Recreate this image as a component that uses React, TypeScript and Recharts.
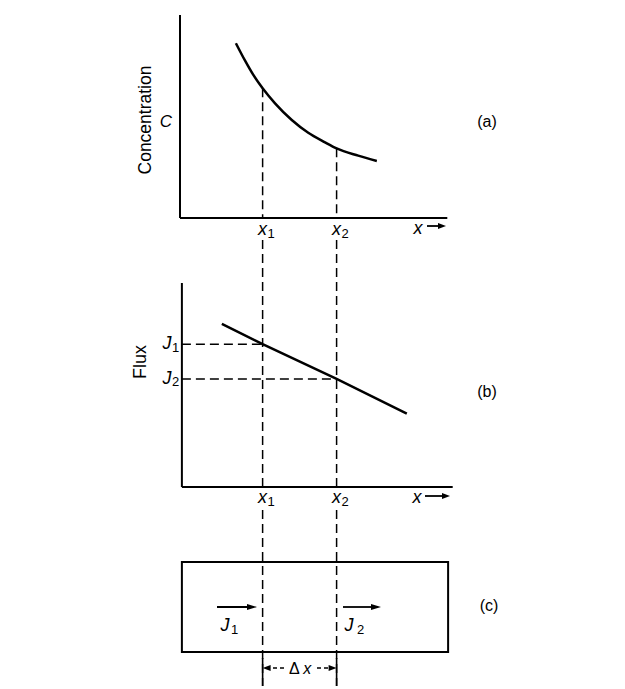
import React from 'react';
import { ComposedChart, Line, XAxis, YAxis, ReferenceLine, ReferenceDot, ReferenceArea } from 'recharts';

// ---------------- data ----------------
const positions = [3.06, 5.8]; // x1, x2 on the shared x scale
const subscripts = ['1', '2'];
const concX = [2.07, 2.41, 2.71, 3.06, 3.52, 4.14, 4.75, 5.37, 5.8, 6.6, 7.29];
const concValues = [8.61, 7.75, 7.06, 6.39, 5.65, 4.83, 4.2, 3.73, 3.43, 3.07, 2.81];
const fluxX = [1.55, 3.06, 5.8, 8.4];
const fluxValues = [8.0, 7.0, 5.3, 3.6];
const fluxAtPositions = [7.0, 5.3]; // J1, J2
const slabX = [0.07, 9.93];
const slabY = [0, 5];
const panelNames = ['(a)', '(b)', '(c)'];

const concData = concX.map((x, i) => ({ x, c: concValues[i] }));
const fluxData = fluxX.map((x, i) => ({ x, j: fluxValues[i] }));

// ---------------- layout ----------------
const W = 625;
const H = 689;
const ML = 180;
const MR = 175;
const TOP = 15;
const BOTTOM = 686;
const X_PPU = (W - ML - MR) / 10;
const C_ZERO = 218, C_PPU = 20.3;
const F_ZERO = 487, F_PPU = 20.4;
const S_ZERO = 652, S_PPU = 18;
const dom = (zero: number, ppu: number) => [-(BOTTOM - zero) / ppu, (zero - TOP) / ppu];
const cDomain = dom(C_ZERO, C_PPU);
const fDomain = dom(F_ZERO, F_PPU);
const sDomain = dom(S_ZERO, S_PPU);
const xU = (px: number) => (px - ML) / X_PPU;
const cU = (px: number) => (C_ZERO - px) / C_PPU;
const fU = (px: number) => (F_ZERO - px) / F_PPU;
const sU = (px: number) => (S_ZERO - px) / S_PPU;

const FONT = "'Liberation Sans', Arial, Helvetica, sans-serif";
const INK = '#000';
const DASH = '9 5';

const note = (key: string, axis: string, x: number, y: number, render: (cx: number, cy: number) => React.ReactNode) => (
  <ReferenceDot
    key={key}
    yAxisId={axis}
    x={x}
    y={y}
    r={0}
    ifOverflow="visible"
    fill="none"
    stroke="none"
    label={(p: any) => <g>{render(p.viewBox.x, p.viewBox.y)}</g>}
  />
);

const subLabel = (main: string, sub: string, size: number, subDx: number) => (cx: number, cy: number) => (
  <g>
    <text x={cx} y={cy} textAnchor="middle" dominantBaseline="central" fontFamily={FONT} fontStyle="italic" fontSize={size} fill={INK}>{main}</text>
    <text x={cx + subDx} y={cy + 4} textAnchor="start" dominantBaseline="central" fontFamily={FONT} fontSize={13} fill={INK}>{sub}</text>
  </g>
);

const plain = (t: string, size: number, rotate = false, italic = false) => (cx: number, cy: number) => (
  <text
    x={cx}
    y={cy}
    textAnchor="middle"
    dominantBaseline="central"
    fontFamily={FONT}
    fontSize={size}
    fontStyle={italic ? 'italic' : 'normal'}
    fill={INK}
    transform={rotate ? `rotate(-90 ${cx} ${cy})` : undefined}
  >
    {t}
  </text>
);

const arrowShape = (dash?: string, head = 8, width = 1.6) => (p: any) => {
  const d = p.x2 >= p.x1 ? 1 : -1;
  return (
    <g>
      <line x1={p.x1} y1={p.y1} x2={p.x2 - d * head * 0.6} y2={p.y2} stroke={INK} strokeWidth={width} strokeDasharray={dash} />
      <polygon points={`${p.x2},${p.y2} ${p.x2 - d * head},${p.y2 - 3} ${p.x2 - d * head},${p.y2 + 3}`} fill={INK} />
    </g>
  );
};

const seg = (key: string, axis: string, a: { x: number; y: number }, b: { x: number; y: number }, dashed: boolean, width = 1.5) => (
  <ReferenceLine
    key={key}
    yAxisId={axis}
    segment={[a, b]}
    stroke={INK}
    strokeWidth={width}
    strokeDasharray={dashed ? DASH : undefined}
    ifOverflow="visible"
  />
);

export default function App() {
  return (
    <div style={{ position: 'absolute', left: 0, top: 0, width: W, height: H, background: '#fff' }}>
      <ComposedChart width={W} height={H} margin={{ top: TOP, right: MR, bottom: H - BOTTOM, left: ML }}>
        <XAxis type="number" dataKey="x" domain={[0, 10]} hide allowDataOverflow />
        <YAxis yAxisId="c" type="number" domain={cDomain} hide allowDataOverflow />
        <YAxis yAxisId="f" type="number" domain={fDomain} hide allowDataOverflow />
        <YAxis yAxisId="s" type="number" domain={sDomain} hide allowDataOverflow />

        {/* panel (a) axes */}
        {seg('ay', 'c', { x: 0, y: 0 }, { x: 0, y: 10 }, false, 2)}
        {seg('ax', 'c', { x: 0, y: 0 }, { x: 9.9, y: 0 }, false, 2)}
        {/* panel (b) axes */}
        {seg('by', 'f', { x: slabX[0], y: 0 }, { x: slabX[0], y: 10 }, false, 2)}
        {seg('bx', 'f', { x: slabX[0], y: 0 }, { x: 10.1, y: 0 }, false, 2)}

        {/* vertical dashed guides through all panels */}
        {positions.map((xm, i) => seg(`va${i}`, 'c', { x: xm, y: concValues[concX.indexOf(xm)] }, { x: xm, y: 0 }, true))}
        {positions.map((xm, i) => seg(`vb${i}`, 'f', { x: xm, y: fU(240) }, { x: xm, y: 0 }, true))}
        {positions.map((xm, i) => seg(`vc${i}`, 's', { x: xm, y: sU(510) }, { x: xm, y: sDomain[0] }, true))}
        {positions.map((xm, i) => seg(`vbar${i}`, 's', { x: xm, y: sU(658) }, { x: xm, y: sDomain[0] }, false, 1.6))}

        {/* horizontal flux guides */}
        {positions.map((xm, i) => seg(`h${i}`, 'f', { x: slabX[0], y: fluxAtPositions[i] }, { x: xm, y: fluxAtPositions[i] }, true))}

        {/* slab (c) */}
        <ReferenceArea
          yAxisId="s"
          x1={slabX[0]}
          x2={slabX[1]}
          y1={slabY[0]}
          y2={slabY[1]}
          fill="none"
          fillOpacity={0}
          stroke={INK}
          strokeWidth={2}
          ifOverflow="visible"
        />

        {/* curves */}
        <Line data={concData} dataKey="c" yAxisId="c" type="monotone" stroke={INK} strokeWidth={2.5} dot={false} isAnimationActive={false} />
        <Line data={fluxData} dataKey="j" yAxisId="f" type="linear" stroke={INK} strokeWidth={2.5} dot={false} isAnimationActive={false} />

        {/* axis arrows "x ->" */}
        <ReferenceLine yAxisId="c" segment={[{ x: xU(427), y: cU(226) }, { x: xU(446), y: cU(226) }]} ifOverflow="visible" shape={arrowShape(undefined, 8, 1.8)} />
        <ReferenceLine yAxisId="f" segment={[{ x: xU(425), y: fU(496) }, { x: xU(450), y: fU(496) }]} ifOverflow="visible" shape={arrowShape(undefined, 8, 1.8)} />
        {/* flux arrows in slab */}
        <ReferenceLine yAxisId="s" segment={[{ x: xU(217), y: sU(607) }, { x: xU(257), y: sU(607) }]} ifOverflow="visible" shape={arrowShape(undefined, 10, 1.8)} />
        <ReferenceLine yAxisId="s" segment={[{ x: xU(343), y: sU(607) }, { x: xU(381), y: sU(607) }]} ifOverflow="visible" shape={arrowShape(undefined, 10, 1.8)} />
        {/* delta-x bracket */}
        <ReferenceLine yAxisId="s" segment={[{ x: xU(284), y: sU(668) }, { x: positions[0], y: sU(668) }]} ifOverflow="visible" shape={arrowShape('4 3', 8, 1.4)} />
        <ReferenceLine yAxisId="s" segment={[{ x: xU(317), y: sU(668) }, { x: positions[1], y: sU(668) }]} ifOverflow="visible" shape={arrowShape('4 3', 8, 1.4)} />

        {/* text */}
        {note('conc', 'c', xU(145), cU(120), plain('Concentration', 17.5, true))}
        {note('C', 'c', xU(166), cU(121), plain('C', 17, false, true))}
        {note('flux', 'f', xU(140), fU(362), plain('Flux', 18, true))}
        {positions.map((xm, i) => note(`xa${i}`, 'c', xm, cU(229), subLabel('x', subscripts[i], 18, 5)))}
        {positions.map((xm, i) => note(`xb${i}`, 'f', xm, fU(497), subLabel('x', subscripts[i], 18, 5)))}
        {note('xa', 'c', xU(418), cU(228), plain('x', 18, false, true))}
        {note('xb', 'f', xU(417), fU(497), plain('x', 18, false, true))}
        {fluxAtPositions.map((j, i) => note(`J${i}`, 'f', xU(167), j + 0.05, subLabel('J', subscripts[i], 18, 5)))}
        {note('Jc1', 's', xU(225), sU(625), subLabel('J', subscripts[0], 18, 6))}
        {note('Jc2', 's', xU(349), sU(625), subLabel('J', subscripts[1], 18, 8))}
        {note('dx', 's', xU(300), sU(668), (cx, cy) => (
          <text x={cx} y={cy} textAnchor="middle" dominantBaseline="central" fontFamily={FONT} fontSize={16} fill={INK}>
            Δ <tspan fontStyle="italic">x</tspan>
          </text>
        ))}
        {note('pa', 'c', xU(487), cU(121), plain(panelNames[0], 16))}
        {note('pb', 'f', xU(487), fU(391), plain(panelNames[1], 16))}
        {note('pc', 's', xU(489), sU(605), plain(panelNames[2], 16))}
      </ComposedChart>
    </div>
  );
}
